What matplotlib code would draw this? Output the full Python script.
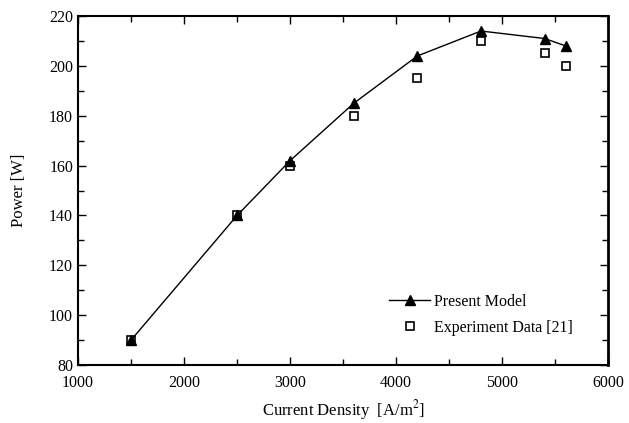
import matplotlib.pyplot as plt
from matplotlib.ticker import MultipleLocator

plt.rcParams['font.family'] = ['Liberation Serif', 'DejaVu Serif']
plt.rcParams['mathtext.fontset'] = 'stix'

# model and experiment values
current = [1500, 2500, 3000, 3600, 4200, 4800, 5400, 5600]
model_power = [90, 140, 162, 185, 204, 214, 211, 208]
exp_power = [90, 140, 160, 180, 195, 210, 205, 200]

fig = plt.figure(figsize=(6.29, 4.23), dpi=100)
ax = fig.add_axes([0.124, 0.137, 0.843, 0.825])

ax.plot(current, exp_power, ls='none', marker='s', ms=5.5, mfc='white',
        mec='black', mew=1.2, label='Experiment Data [21]', zorder=2)
ax.plot(current, model_power, color='black', lw=1, marker='^', ms=6.5,
        label='Present Model', zorder=3)

ax.set_xlim(1000, 6000)
ax.set_ylim(80, 220)
ax.xaxis.set_major_locator(MultipleLocator(1000))
ax.xaxis.set_minor_locator(MultipleLocator(500))
ax.yaxis.set_major_locator(MultipleLocator(20))
ax.yaxis.set_minor_locator(MultipleLocator(10))
ax.tick_params(which='both', direction='in', top=True, right=True,
               labelsize=11.5, width=1)
ax.tick_params(which='major', length=6)
ax.tick_params(which='minor', length=4)
ax.tick_params(axis='x', pad=7)
for s in ax.spines.values():
    s.set_linewidth(1.5)
ax.spines['right'].set_linewidth(2)

ax.set_xlabel('Current Density  [A/m$^2$]', fontsize=12, labelpad=5)
ax.set_ylabel('Power [W]', fontsize=12, labelpad=16)

h, l = ax.get_legend_handles_labels()
ax.legend(h[::-1], l[::-1], loc='upper left', bbox_to_anchor=(0.559, 0.245),
          frameon=False, fontsize=11.5, handlelength=2.6, handletextpad=0.2,
          labelspacing=0.6)

fig.savefig('out.png', dpi=100)
